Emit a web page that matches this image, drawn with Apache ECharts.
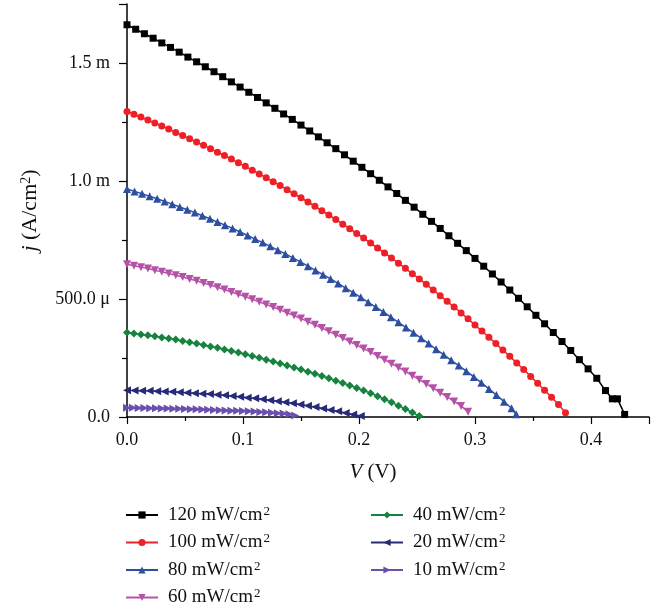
<!DOCTYPE html>
<html>
<head>
<meta charset="utf-8">
<script src="https://cdn.jsdelivr.net/npm/echarts@6/dist/echarts.min.js"></script>
<style>
  html, body { margin: 0; padding: 0; background: #fff; }
  #jv { width: 663px; height: 610px; }
</style>
</head>
<body>
<div id="jv"></div>
<script>
// j-V curves under different illumination, j in mA/cm^2 (axis shows A/cm^2 with SI prefix)
var yTicks = [0, 0.5, 1.0, 1.5];
var yTickLabels = ['0.0', '500.0 \u03bc', '1.0 m', '1.5 m'];

var v120 = [0,0.0075,0.015,0.0225,0.03,0.0375,0.045,0.0525,0.06,0.0675,0.075,0.0825,0.09,0.0975,0.105,0.1125,0.12,0.1275,0.135,0.1425,
  0.15,0.1575,0.165,0.1725,0.18,0.1875,0.195,0.2025,0.21,0.2175,0.225,0.2325,0.24,0.2475,0.255,0.2625,0.27,0.2775,0.285,0.2925,
  0.3,0.3075,0.315,0.3225,0.33,0.3375,0.345,0.3525,0.36,0.3675,0.375,0.3825,0.39,0.3975,0.405,0.4125,0.4184,0.4228,0.429];
var j120 = [1.662,1.643,1.624,1.605,1.585,1.566,1.546,1.525,1.505,1.484,1.463,1.442,1.420,1.398,1.376,1.354,1.331,1.308,1.284,1.261,
  1.237,1.212,1.187,1.162,1.137,1.111,1.084,1.058,1.031,1.003,0.975,0.947,0.918,0.889,0.859,0.829,0.799,0.768,0.736,0.705,
  0.672,0.639,0.606,0.572,0.538,0.503,0.467,0.431,0.395,0.358,0.320,0.282,0.243,0.204,0.164,0.112,0.077,0.077,0.011];

var v100 = [0,0.006,0.012,0.018,0.024,0.03,0.036,0.042,0.048,0.054,0.06,0.066,0.072,0.078,0.084,0.09,0.096,0.102,0.108,0.114,
  0.12,0.126,0.132,0.138,0.144,0.15,0.156,0.162,0.168,0.174,0.18,0.186,0.192,0.198,0.204,0.21,0.216,0.222,0.228,0.234,
  0.24,0.246,0.252,0.258,0.264,0.27,0.276,0.282,0.288,0.294,0.3,0.306,0.312,0.318,0.324,0.33,0.336,0.342,0.348,0.354,
  0.36,0.366,0.372,0.378];
var j100 = [1.295,1.283,1.271,1.258,1.246,1.233,1.220,1.206,1.193,1.179,1.165,1.151,1.137,1.122,1.108,1.093,1.077,1.062,1.046,1.030,
  1.014,0.997,0.981,0.963,0.946,0.929,0.911,0.893,0.874,0.856,0.837,0.817,0.798,0.778,0.758,0.737,0.716,0.695,0.674,0.652,
  0.630,0.607,0.585,0.562,0.538,0.514,0.490,0.466,0.441,0.416,0.390,0.364,0.338,0.311,0.284,0.257,0.229,0.201,0.172,0.143,
  0.113,0.084,0.053,0.018];

var v80 = [0,0.0065,0.013,0.0195,0.026,0.0325,0.039,0.0455,0.052,0.0585,0.065,0.0715,0.078,0.0845,0.091,0.0975,0.104,0.1105,0.117,0.1235,
  0.13,0.1365,0.143,0.1495,0.156,0.1625,0.169,0.1755,0.182,0.1885,0.195,0.2015,0.208,0.2145,0.221,0.2275,0.234,0.2405,0.247,0.2535,
  0.26,0.2665,0.273,0.2795,0.286,0.2925,0.299,0.3055,0.312,0.3185,0.325,0.3315,0.3355];
var j80 = [0.966,0.956,0.946,0.935,0.925,0.913,0.902,0.890,0.878,0.866,0.853,0.840,0.826,0.813,0.799,0.784,0.769,0.754,0.739,0.723,
  0.707,0.691,0.674,0.657,0.639,0.621,0.603,0.585,0.566,0.546,0.527,0.507,0.486,0.466,0.445,0.423,0.401,0.379,0.357,0.334,
  0.311,0.287,0.264,0.240,0.218,0.194,0.170,0.145,0.119,0.093,0.065,0.037,0.012];

var v60 = [0,0.006,0.012,0.018,0.024,0.03,0.036,0.042,0.048,0.054,0.06,0.066,0.072,0.078,0.084,0.09,0.096,0.102,0.108,0.114,
  0.12,0.126,0.132,0.138,0.144,0.15,0.156,0.162,0.168,0.174,0.18,0.186,0.192,0.198,0.204,0.21,0.216,0.222,0.228,0.234,
  0.24,0.246,0.252,0.258,0.264,0.27,0.276,0.282,0.288,0.294];
var j60 = [0.647,0.641,0.635,0.629,0.622,0.615,0.608,0.601,0.593,0.585,0.577,0.568,0.559,0.550,0.540,0.530,0.520,0.510,0.499,0.488,
  0.477,0.466,0.454,0.442,0.430,0.417,0.404,0.391,0.377,0.363,0.349,0.335,0.320,0.305,0.290,0.275,0.259,0.243,0.226,0.210,
  0.193,0.175,0.158,0.140,0.122,0.103,0.085,0.066,0.047,0.022];

var v40 = [0,0.006,0.012,0.018,0.024,0.03,0.036,0.042,0.048,0.054,0.06,0.066,0.072,0.078,0.084,0.09,0.096,0.102,0.108,0.114,
  0.12,0.126,0.132,0.138,0.144,0.15,0.156,0.162,0.168,0.174,0.18,0.186,0.192,0.198,0.204,0.21,0.216,0.222,0.228,0.234,
  0.24,0.246,0.252];
var j40 = [0.358,0.354,0.350,0.346,0.342,0.337,0.333,0.328,0.322,0.317,0.311,0.305,0.299,0.293,0.286,0.280,0.273,0.266,0.258,0.251,
  0.243,0.235,0.227,0.218,0.210,0.201,0.192,0.183,0.174,0.164,0.154,0.144,0.134,0.123,0.112,0.101,0.088,0.075,0.062,0.048,
  0.034,0.019,0.004];

var v20 = [0,0.0065,0.013,0.0195,0.026,0.0325,0.039,0.0455,0.052,0.0585,0.065,0.0715,0.078,0.0845,0.091,0.0975,0.104,0.1105,0.117,0.1235,
  0.13,0.1365,0.143,0.1495,0.156,0.1625,0.169,0.1755,0.182,0.1885,0.195,0.2015];
var j20 = [0.113,0.112,0.111,0.111,0.109,0.108,0.107,0.105,0.103,0.101,0.099,0.097,0.094,0.092,0.089,0.086,0.082,0.079,0.075,0.071,
  0.067,0.063,0.058,0.053,0.048,0.042,0.036,0.030,0.024,0.017,0.011,0.004];

var v10 = [0,0.005,0.01,0.015,0.02,0.025,0.03,0.035,0.04,0.045,0.05,0.055,0.06,0.065,0.07,0.075,0.08,0.085,0.09,0.095,
  0.1,0.105,0.11,0.115,0.12,0.125,0.13,0.135,0.14,0.145];
var j10 = [0.039,0.039,0.038,0.038,0.037,0.037,0.036,0.036,0.035,0.035,0.034,0.033,0.033,0.032,0.031,0.030,0.029,0.028,0.027,0.026,
  0.025,0.024,0.023,0.021,0.020,0.018,0.016,0.015,0.012,0.006];

var powers = [120, 100, 80, 60, 40, 20, 10];
var volts = [v120, v100, v80, v60, v40, v20, v10];
var currents = [j120, j100, j80, j60, j40, j20, j10];
var colors = ['#000000', '#ee2027', '#2d4fa2', '#b552a8', '#16843f', '#262a78', '#6b4fae'];
var symbols = ['rect', 'circle', 'triangle', 'triangle', 'diamond', 'triangle', 'triangle'];
var rotates = [0, 0, 0, 180, 0, 90, -90];
var sizes = [7, 7, 8, 8, 8, 8, 8];

var serif = 'Liberation Serif';
var series = powers.map(function (p, i) {
  return {
    name: p + ' mW/cm\u00b2',
    type: 'line',
    data: currents[i].map(function (y, k) { return [volts[i][k], y]; }),
    symbol: symbols[i],
    symbolRotate: rotates[i],
    symbolSize: sizes[i],
    showAllSymbol: true,
    lineStyle: { color: colors[i], width: 1.5 },
    itemStyle: { color: colors[i], borderWidth: 0 },
    emphasis: { disabled: true },
    animation: false
  };
});

var legendRich = {
  t: { fontFamily: serif, fontSize: 19, color: '#111', lineHeight: 20, padding: [0, 0, 0, 5] },
  s: { fontFamily: serif, fontSize: 13, color: '#111', lineHeight: 20, verticalAlign: 'top', padding: [0, 0, 0, 1] }
};
function legendFmt(name) {
  return '{t|' + name.replace('\u00b2', '') + '}{s|2}';
}
function legendBox(names, left) {
  return {
    data: names,
    orient: 'vertical',
    left: left,
    top: 505,
    padding: 0,
    itemGap: 8,
    itemWidth: 32,
    itemHeight: 9,
    formatter: legendFmt,
    textStyle: { rich: legendRich },
    selectedMode: false
  };
}

var option = {
  backgroundColor: '#fff',
  animation: false,
  grid: { left: 127, right: 14, top: 4, bottom: 193 },
  legend: [
    legendBox(series.slice(0, 4).map(function (s) { return s.name; }), 125),
    legendBox(series.slice(4).map(function (s) { return s.name; }), 370)
  ],
  xAxis: {
    type: 'value',
    min: 0,
    max: 0.45,
    interval: 0.1,
    name: '{i|V}{t| (V)}',
    nameLocation: 'middle',
    nameGap: 45,
    nameTextStyle: {
      padding: [0, 30, 0, 0],
      rich: {
        i: { fontFamily: serif, fontSize: 21, fontStyle: 'italic', color: '#111' },
        t: { fontFamily: serif, fontSize: 21, color: '#111' }
      }
    },
    splitLine: { show: false },
    axisLine: { lineStyle: { color: '#000', width: 1.5 } },
    axisTick: { inside: false, length: 7, lineStyle: { color: '#000', width: 1.2 } },
    minorTick: { show: true, splitNumber: 2, length: 4, lineStyle: { color: '#000', width: 1.2 } },
    axisLabel: {
      margin: 14,
      fontFamily: serif,
      fontSize: 18,
      color: '#111',
      formatter: function (v) { return Math.abs(v * 10 - Math.round(v * 10)) < 1e-6 ? v.toFixed(1) : ''; }
    }
  },
  yAxis: {
    type: 'value',
    min: 0,
    max: 1.75,
    interval: 0.5,
    name: '{i|j}{t| (A/cm}{s|2}{t|)}',
    nameLocation: 'middle',
    nameGap: 86,
    nameTextStyle: {
      rich: {
        i: { fontFamily: serif, fontSize: 22, fontStyle: 'italic', color: '#111' },
        t: { fontFamily: serif, fontSize: 22, color: '#111' },
        s: { fontFamily: serif, fontSize: 14, color: '#111', verticalAlign: 'top' }
      }
    },
    splitLine: { show: false },
    axisLine: { show: true, lineStyle: { color: '#000', width: 1.5 } },
    axisTick: { show: true, length: 8, lineStyle: { color: '#000', width: 1.2 } },
    minorTick: { show: true, splitNumber: 2, length: 5, lineStyle: { color: '#000', width: 1.2 } },
    axisLabel: {
      margin: 17,
      fontFamily: serif,
      fontSize: 18,
      color: '#111',
      formatter: function (v) {
        for (var i = 0; i < yTicks.length; i++) {
          if (Math.abs(v - yTicks[i]) < 1e-6) return yTickLabels[i];
        }
        return '';
      }
    }
  },
  series: series
};

var myChart = echarts.init(document.getElementById('jv'));
myChart.setOption(option);
</script>
</body>
</html>
